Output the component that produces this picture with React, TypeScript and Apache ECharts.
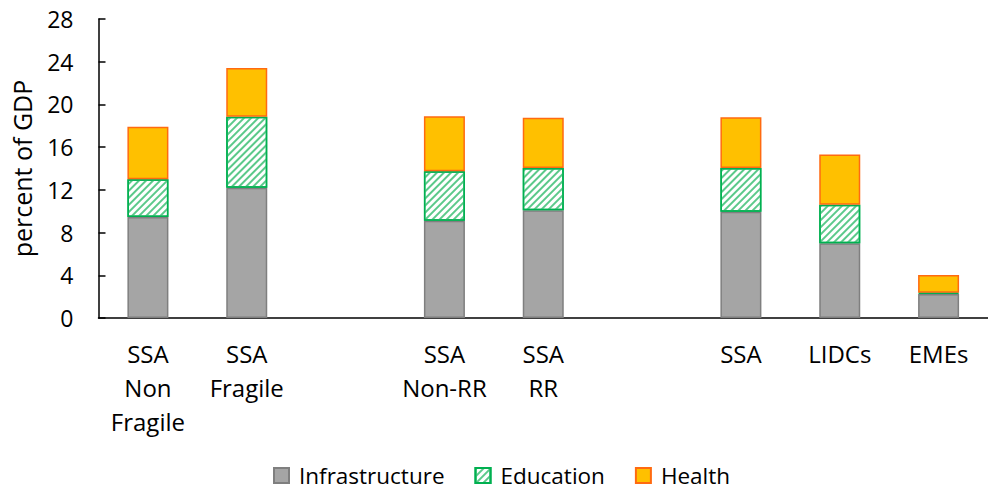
import React, { useEffect, useRef } from "react";
import * as echarts from "echarts";

const categories = ["SSA\nNon\nFragile", "SSA\nFragile", "", "SSA\nNon-RR", "SSA\nRR", "", "SSA", "LIDCs", "EMEs"];
const infrastructure = [9.45, 12.2, null, 9.1, 10.1, null, 9.95, 7.0, 2.25];
const education = [3.55, 6.65, null, 4.65, 3.95, null, 4.1, 3.6, 0.12];
const health = [4.9, 4.55, null, 5.15, 4.7, null, 4.75, 4.7, 1.65];
const yTicks = [0, 4, 8, 12, 16, 20, 24, 28];

const FONT = "Open Sans";

export default function App() {
  const ref = useRef<HTMLDivElement>(null);
  useEffect(() => {
    if (!ref.current) return;
    const chart = echarts.init(ref.current, null, { renderer: "svg" });
    chart.setOption({
      animation: false,
      textStyle: { fontFamily: FONT, color: "#000" },
      grid: { left: 98.5, right: -11.5, top: 19, bottom: 173 },
      legend: {
        top: 464,
        left: 273,
        padding: 0,
        itemWidth: 15,
        itemHeight: 15,
        itemGap: 30,
        icon: "rect",
        textStyle: { fontSize: 22.5, lineHeight: 20, fontFamily: FONT, color: "#000", padding: [0, 0, 0, 5] },
        data: ["Infrastructure", "Education", "Health"],
      },
      xAxis: {
        type: "category",
        data: categories,
        axisLine: { lineStyle: { color: "#000", width: 1.5 } },
        axisTick: { show: false },
        axisLabel: { fontSize: 24, color: "#000", lineHeight: 34, margin: 18, interval: 0 },
      },
      yAxis: {
        type: "value",
        min: 0,
        max: 28,
        interval: 4,
        name: "percent of GDP",
        nameLocation: "middle",
        nameGap: 64,
        nameTextStyle: { fontSize: 25, color: "#000" },
        axisLine: { show: true, lineStyle: { color: "#000", width: 1.5 } },
        axisTick: { show: true, inside: true, length: 7, lineStyle: { color: "#000", width: 1.5 } },
        axisLabel: {
          fontSize: 23,
          color: "#000",
          margin: 25,
          formatter: (v: number) => (yTicks.includes(v) ? String(v) : ""),
        },
        splitLine: { show: false },
      },
      series: [
        {
          name: "Infrastructure",
          type: "bar",
          stack: "t",
          barWidth: 41,
          data: infrastructure,
          itemStyle: { color: "#A5A5A5", borderColor: "#7F7F7F", borderWidth: 1.5 },
        },
        {
          name: "Education",
          type: "bar",
          stack: "t",
          barWidth: 41,
          data: education,
          itemStyle: {
            color: "#ffffff",
            borderColor: "#00B050",
            borderWidth: 1.5,
            decal: {
              symbol: "rect",
              symbolSize: 1,
              color: "#5BC98A",
              dashArrayX: [1, 0],
              dashArrayY: [1.5, 2.5],
              rotation: -Math.PI / 4,
            },
          },
        },
        {
          name: "Health",
          type: "bar",
          stack: "t",
          barWidth: 41,
          data: health,
          itemStyle: { color: "#FFC000", borderColor: "#FF6A10", borderWidth: 1.5 },
        },
      ],
    });
    return () => chart.dispose();
  }, []);
  return <div ref={ref} style={{ width: 988, height: 491, position: "absolute", left: 0, top: 0 }} />;
}
